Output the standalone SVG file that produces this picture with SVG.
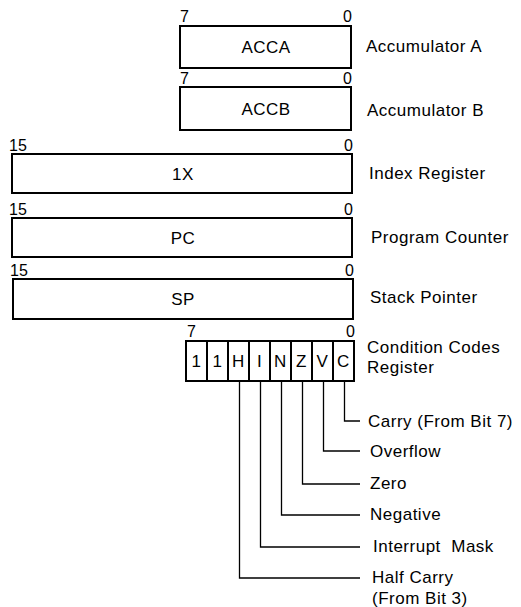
<svg xmlns="http://www.w3.org/2000/svg" width="521" height="607" viewBox="0 0 521 607">
<style>
.box{fill:#fff;stroke:#000;stroke-width:2}
.t{font-family:"Liberation Sans",Arial,sans-serif;font-size:17px;fill:#000;letter-spacing:0.5px}
.n{font-family:"Liberation Sans",Arial,sans-serif;font-size:16px;fill:#000}
.c{text-anchor:middle}
.e{text-anchor:end}
.ln{fill:none;stroke:#000;stroke-width:1.3}
</style>
<rect width="521" height="607" fill="#fff"/>
<g id="acca">
<rect class="box" x="180" y="26" width="171" height="42"/>
<text class="n" x="180" y="22">7</text>
<text class="n e" x="352" y="22">0</text>
<text class="t c" x="266" y="53">ACCA</text>
<text class="t" x="366" y="52">Accumulator A</text>
</g>
<g id="accb">
<rect class="box" x="180" y="87" width="171" height="43"/>
<text class="n" x="180" y="84">7</text>
<text class="n e" x="352" y="84">0</text>
<text class="t c" x="266" y="115">ACCB</text>
<text class="t" x="367" y="116">Accumulator B</text>
</g>
<g id="ix">
<rect class="box" x="12" y="154" width="340" height="39"/>
<text class="n" x="9" y="151">15</text>
<text class="n e" x="353" y="151">0</text>
<text class="t c" x="183" y="180">1X</text>
<text class="t" x="369" y="179">Index Register</text>
</g>
<g id="pc">
<rect class="box" x="12" y="218" width="340" height="39"/>
<text class="n" x="9" y="215">15</text>
<text class="n e" x="353" y="215">0</text>
<text class="t c" x="183" y="244">PC</text>
<text class="t" x="371" y="243">Program Counter</text>
</g>
<g id="sp">
<rect class="box" x="13" y="279" width="340" height="40"/>
<text class="n" x="10" y="276">15</text>
<text class="n e" x="354" y="276">0</text>
<text class="t c" x="183" y="305">SP</text>
<text class="t" x="370" y="303">Stack Pointer</text>
</g>
<g id="ccr">
<rect class="box" x="186" y="341" width="168" height="40"/>
<path class="ln" d="M207 341V381M228 341V381M249 341V381M270 341V381M291 341V381M312 341V381M333 341V381" style="stroke-width:2"/>
<text class="n" x="187" y="337">7</text>
<text class="n e" x="355" y="337">0</text>
<text class="t c" x="196.5" y="367">1</text>
<text class="t c" x="217.5" y="367">1</text>
<text class="t c" x="238.5" y="367">H</text>
<text class="t c" x="259.5" y="367">I</text>
<text class="t c" x="280.5" y="367">N</text>
<text class="t c" x="301.5" y="367">Z</text>
<text class="t c" x="322.5" y="367">V</text>
<text class="t c" x="343.5" y="367">C</text>
<text class="t" x="367" y="353">Condition Codes</text>
<text class="t" x="367" y="373">Register</text>
</g>
<g id="connectors">
<path class="ln" d="M344.5 381V421H360"/>
<path class="ln" d="M323.5 381V451H360"/>
<path class="ln" d="M302.5 381V484H360"/>
<path class="ln" d="M281.5 381V515H360"/>
<path class="ln" d="M260.5 381V547H360"/>
<path class="ln" d="M239.5 381V578H360"/>
</g>
<g id="labels">
<text class="t" x="368" y="427">Carry (From Bit 7)</text>
<text class="t" x="370" y="457">Overflow</text>
<text class="t" x="370" y="489">Zero</text>
<text class="t" x="370" y="520">Negative</text>
<text class="t" x="373" y="552">Interrupt&#160; Mask</text>
<text class="t" x="372" y="583">Half Carry</text>
<text class="t" x="372" y="604">(From Bit 3)</text>
</g>
</svg>
